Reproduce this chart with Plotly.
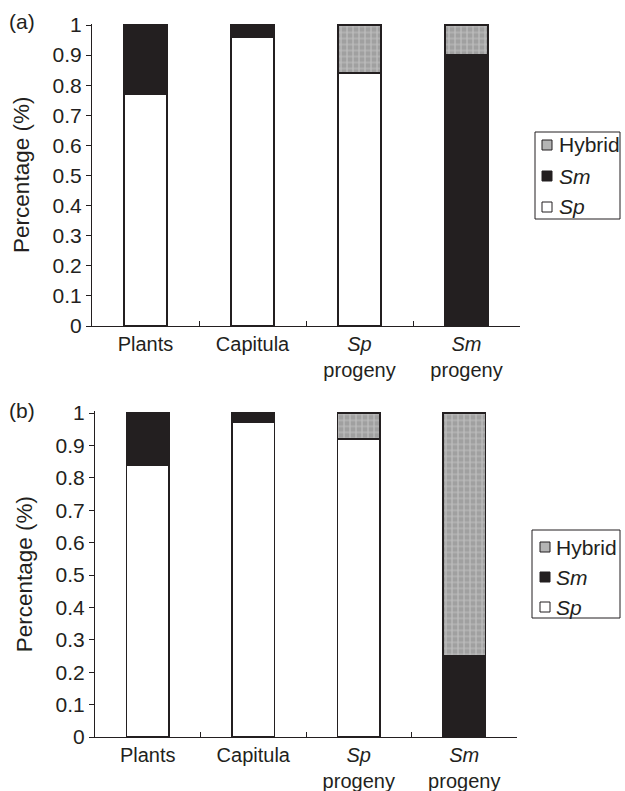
import plotly.graph_objects as go

W, H = 625, 791

categories = ["Plants", "Capitula", "<i>Sp</i><br>progeny", "<i>Sm</i><br>progeny"]

# Panel (a)
a_sp = [0.77, 0.96, 0.84, 0.0]
a_sm = [0.23, 0.04, 0.0, 0.90]
a_hybrid = [0.0, 0.0, 0.16, 0.10]

# Panel (b)
b_sp = [0.84, 0.97, 0.92, 0.0]
b_sm = [0.16, 0.03, 0.0, 0.25]
b_hybrid = [0.0, 0.0, 0.08, 0.75]

series_names = ["Hybrid", "<i>Sm</i>", "<i>Sp</i>"]

y_tickvals = [0, 0.1, 0.2, 0.3, 0.4, 0.5, 0.6, 0.7, 0.8, 0.9, 1]
y_ticktext = ["0", "0.1", "0.2", "0.3", "0.4", "0.5", "0.6", "0.7", "0.8", "0.9", "1"]

INK = "#231f20"
HYB_BG = "#a0a0a0"
HYB_FG = "#dedede"
FONT = "Liberation Sans, Arial, sans-serif"
FS = 21

def px_x(p):
    return p / W

def px_y(p):
    return 1 - p / H

fig = go.Figure()

def add_panel(sp, sm, hyb, xa, ya):
    common = dict(x=categories, width=0.4, xaxis=xa, yaxis=ya, showlegend=False, hoverinfo="skip")
    fig.add_trace(go.Bar(y=sp, name="Sp",
                         marker=dict(color="white", line=dict(color=INK, width=1.5)),
                         **common))
    fig.add_trace(go.Bar(y=sm, name="Sm",
                         marker=dict(color=INK, line=dict(color=INK, width=1.5)),
                         **common))
    fig.add_trace(go.Bar(y=hyb, name="Hybrid",
                         marker=dict(color=HYB_BG, line=dict(color=INK, width=1.5),
                                     pattern=dict(shape="+", fgcolor=HYB_FG, bgcolor=HYB_BG,
                                                  size=6, solidity=0.35)),
                         **common))

add_panel(a_sp, a_sm, a_hybrid, "x", "y")
add_panel(b_sp, b_sm, b_hybrid, "x2", "y2")

xcommon = dict(type="category", range=[-0.5, 3.5], showline=True, linecolor=INK, linewidth=1.2,
               ticks="inside", tickson="boundaries", ticklen=5, tickcolor=INK, tickwidth=1.2,
               tickfont=dict(family=FONT, size=20, color=INK), showgrid=False, zeroline=False,
               automargin=False, fixedrange=True)
ycommon = dict(range=[0, 1.005], showline=True, linecolor=INK, linewidth=1.2,
               ticks="outside", ticklen=5, tickcolor=INK, tickwidth=1.2,
               tickvals=y_tickvals, ticktext=y_ticktext,
               tickfont=dict(family=FONT, size=FS, color=INK), showgrid=False, zeroline=False,
               title=dict(text="Percentage (%)", font=dict(family=FONT, size=22.5, color=INK), standoff=16),
               automargin=False, fixedrange=True)

shapes = []
annotations = []

def add_legend(box, items):
    # box: (x0, y0, x1, y1) in page pixels; items: (name, fill, y_center, x_square, x_text)
    x0, y0, x1, y1 = box
    shapes.append(dict(type="rect", xref="paper", yref="paper",
                       x0=px_x(x0), x1=px_x(x1), y0=px_y(y1), y1=px_y(y0),
                       line=dict(color=INK, width=1), fillcolor="white", layer="above"))
    for name, fill, yc, xs, xt in items:
        shapes.append(dict(type="rect", xref="paper", yref="paper",
                           x0=px_x(xs), x1=px_x(xs + 10), y0=px_y(yc + 5), y1=px_y(yc - 5),
                           line=dict(color=INK, width=1), fillcolor=fill, layer="above"))
        annotations.append(dict(text=name, x=px_x(xt), y=px_y(yc), xref="paper", yref="paper",
                                xanchor="left", yanchor="middle", showarrow=False,
                                font=dict(family=FONT, size=FS, color=INK)))

fills = ["#b4b4b4", INK, "white"]
add_legend((535, 132, 620, 219),
           [(series_names[i], fills[i], yc, 542, 557) for i, yc in enumerate([145, 176, 207])])
add_legend((532, 530, 620, 618),
           [(series_names[i], fills[i], yc, 540, 554) for i, yc in enumerate([547, 577, 607])])

annotations.append(dict(text="(a)", x=px_x(7), y=px_y(21), xref="paper", yref="paper", xanchor="left",
                        yanchor="middle", showarrow=False, font=dict(family=FONT, size=FS, color=INK)))
annotations.append(dict(text="(b)", x=px_x(7), y=px_y(410), xref="paper", yref="paper", xanchor="left",
                        yanchor="middle", showarrow=False, font=dict(family=FONT, size=FS, color=INK)))

fig.update_layout(
    width=W, height=H,
    margin=dict(l=0, r=0, t=0, b=0),
    paper_bgcolor="white", plot_bgcolor="white",
    barmode="stack",
    showlegend=False,
    font=dict(family=FONT, color=INK),
    xaxis=dict(domain=[px_x(92), px_x(520)], anchor="y", **xcommon),
    yaxis=dict(domain=[px_y(326), px_y(23.5)], anchor="x", **ycommon),
    xaxis2=dict(domain=[px_x(95), px_x(517)], anchor="y2", **xcommon),
    yaxis2=dict(domain=[px_y(737), px_y(411.4)], anchor="x2", **ycommon),
    shapes=shapes,
    annotations=annotations,
)

# Remove the default 8px body margin so the 625x791 figure fills the window exactly.
fig.write_html("out.html",
               config={"displayModeBar": False},
               post_script="document.body.style.margin='0';document.body.style.overflow='hidden';")
